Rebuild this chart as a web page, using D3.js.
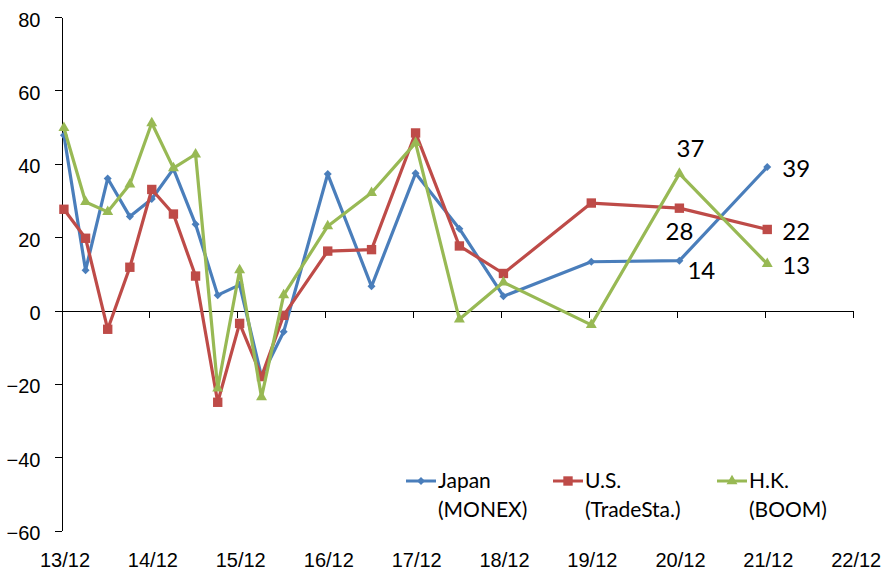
<!DOCTYPE html>
<html>
<head>
<meta charset="utf-8">
<script src="https://cdn.jsdelivr.net/npm/d3@7"></script>
<style>
  body { margin: 0; background: #fff; }
  svg { display: block; font-family: Lato, "Open Sans", sans-serif; }
  .axis path, .axis line { stroke: #000; shape-rendering: crispEdges; }
  .axis text { font-size: 20px; fill: #000; }
</style>
</head>
<body>
<svg id="chart"></svg>
<script>
// periods (yy/mm)
const periods = ['13/12', '14/03', '14/06', '14/09', '14/12', '15/03', '15/06', '15/09', '15/12',
                 '16/03', '16/06', '16/12', '17/06', '17/12', '18/06', '18/12', '19/12', '20/12', '21/12'];

const japan = [47.8, 11, 36, 25.6, 30.4, 38.6, 23.5, 4.2, 7, -18, -5.8, 37.2, 6.6, 37.4, 22.3, 3.9, 13.3, 13.6, 39.1];
const us    = [27.6, 19.7, -5.1, 11.8, 33, 26.3, 9.4, -25, -3.5, -18, -1.3, 16.2, 16.6, 48.4, 17.6, 10.1, 29.3, 27.9, 22.1];
const hk    = [49.8, 29.6, 26.9, 34.4, 51.1, 38.8, 42.6, -21.2, 11, -23.6, 4.2, 23, 32.1, 45.7, -2.4, 7.7, -3.9, 37.3, 12.7];

const xTickLabels = ['13/12', '14/12', '15/12', '16/12', '17/12', '18/12', '19/12', '20/12', '21/12', '22/12'];
const yTicks = [-60, -40, -20, 0, 20, 40, 60, 80];

const seriesNames = [['Japan', '(MONEX)'], ['U.S.', '(TradeSta.)'], ['H.K.', '(BOOM)']];

// value labels shown near the last points: [series index, point index, dx, dy, anchor]
const valueLabels = [
  [0, 17, 8, 10, 'start'], [0, 18, 15, 1, 'start'],
  [1, 17, 0, 23, 'middle'], [1, 18, 15, 2, 'start'],
  [2, 17, 11, -25, 'middle'], [2, 18, 15, 1, 'start']
];

const config = {
  width: 887, height: 573,
  left: 61.5, right: 852.7, top: 17, bottom: 530.7,
  colors: ['#4A7EBB', '#BE4B48', '#98B954']
};

const parseP = p => {
  const [y, m] = p.split('/').map(Number);
  return new Date(2000 + y, m - 1, 11);
};
const parseTick = p => {
  const [y, m] = p.split('/').map(Number);
  return new Date(2000 + y, m - 1, 1);
};

const svg = d3.select('#chart')
  .attr('width', config.width)
  .attr('height', config.height);

const xScale = d3.scaleTime()
  .domain([parseTick(xTickLabels[0]), parseTick(xTickLabels[xTickLabels.length - 1])])
  .range([config.left, config.right]);

const yScale = d3.scaleLinear()
  .domain([-60, 80])
  .range([config.bottom, config.top]);

// y axis
const yAxisG = svg.append('g')
  .attr('class', 'axis y-axis')
  .attr('transform', `translate(${config.left},0)`)
  .call(d3.axisLeft(yScale).tickValues(yTicks).tickSize(7).tickPadding(14).tickSizeOuter(0));
yAxisG.selectAll('text').attr('dy', '0.45em');

// x axis line through zero, ticks only
const xTickDates = xTickLabels.map(parseTick);
svg.append('g')
  .attr('class', 'axis x-axis')
  .attr('transform', `translate(0,${yScale(0)})`)
  .call(d3.axisBottom(xScale).tickValues(xTickDates).tickSize(7).tickSizeOuter(0).tickFormat(''))
  .selectAll('.tick').filter((d, i) => i === 0).remove();

// x labels at the bottom
const xLabelG = svg.append('g')
  .attr('class', 'axis x-labels')
  .attr('transform', `translate(0,550)`)
  .call(d3.axisBottom(xScale).tickValues(xTickDates).tickSize(0).tickPadding(3)
    .tickFormat((d, i) => xTickLabels[i]));
xLabelG.select('.domain').remove();
xLabelG.selectAll('text').attr('dx', 3);

// lines + markers
const allSeries = [japan, us, hk];
const symbols = [
  d3.symbol().type(d3.symbolSquare).size(32),
  d3.symbol().type(d3.symbolSquare).size(88),
  d3.symbol().type(d3.symbolTriangle).size(52)
];
const rot = [45, 0, 0];

const line = d3.line()
  .x((d, i) => xScale(parseP(periods[i])))
  .y(d => yScale(d));

allSeries.forEach((vals, s) => {
  const g = svg.append('g').attr('class', 'series');
  g.append('path')
    .datum(vals)
    .attr('fill', 'none')
    .attr('stroke', config.colors[s])
    .attr('stroke-width', 3.2)
    .attr('stroke-linejoin', 'round')
    .attr('d', line);
  g.selectAll('.marker')
    .data(vals)
    .join('path')
    .attr('class', 'marker')
    .attr('fill', config.colors[s])
    .attr('d', symbols[s])
    .attr('transform', (d, i) => `translate(${xScale(parseP(periods[i]))},${yScale(d)}) rotate(${rot[s]})`);
});

// value labels
svg.append('g')
  .selectAll('text')
  .data(valueLabels)
  .join('text')
  .attr('x', d => xScale(parseP(periods[d[1]])) + d[2])
  .attr('y', d => yScale(allSeries[d[0]][d[1]]) + d[3])
  .attr('dy', '0.36em')
  .attr('text-anchor', d => d[4])
  .style('font-size', '24px')
  .attr('fill', '#000')
  .text(d => Math.round(allSeries[d[0]][d[1]]));

// legend
const legendX = [406, 553, 717];
const legend = svg.append('g').attr('class', 'legend');
seriesNames.forEach((names, s) => {
  const lg = legend.append('g').attr('transform', `translate(${legendX[s]},0)`);
  lg.append('line')
    .attr('x1', 0).attr('x2', 30)
    .attr('y1', 481).attr('y2', 481)
    .attr('stroke', config.colors[s])
    .attr('stroke-width', 3);
  lg.append('path')
    .attr('fill', config.colors[s])
    .attr('d', symbols[s])
    .attr('transform', `translate(15,481) rotate(${rot[s]})`);
  lg.selectAll('text')
    .data(names)
    .join('text')
    .attr('x', 32)
    .attr('y', (d, i) => 488 + i * 29)
    .style('font-size', '21px')
    .attr('fill', '#000')
    .text(d => d);
});
</script>
</body>
</html>
